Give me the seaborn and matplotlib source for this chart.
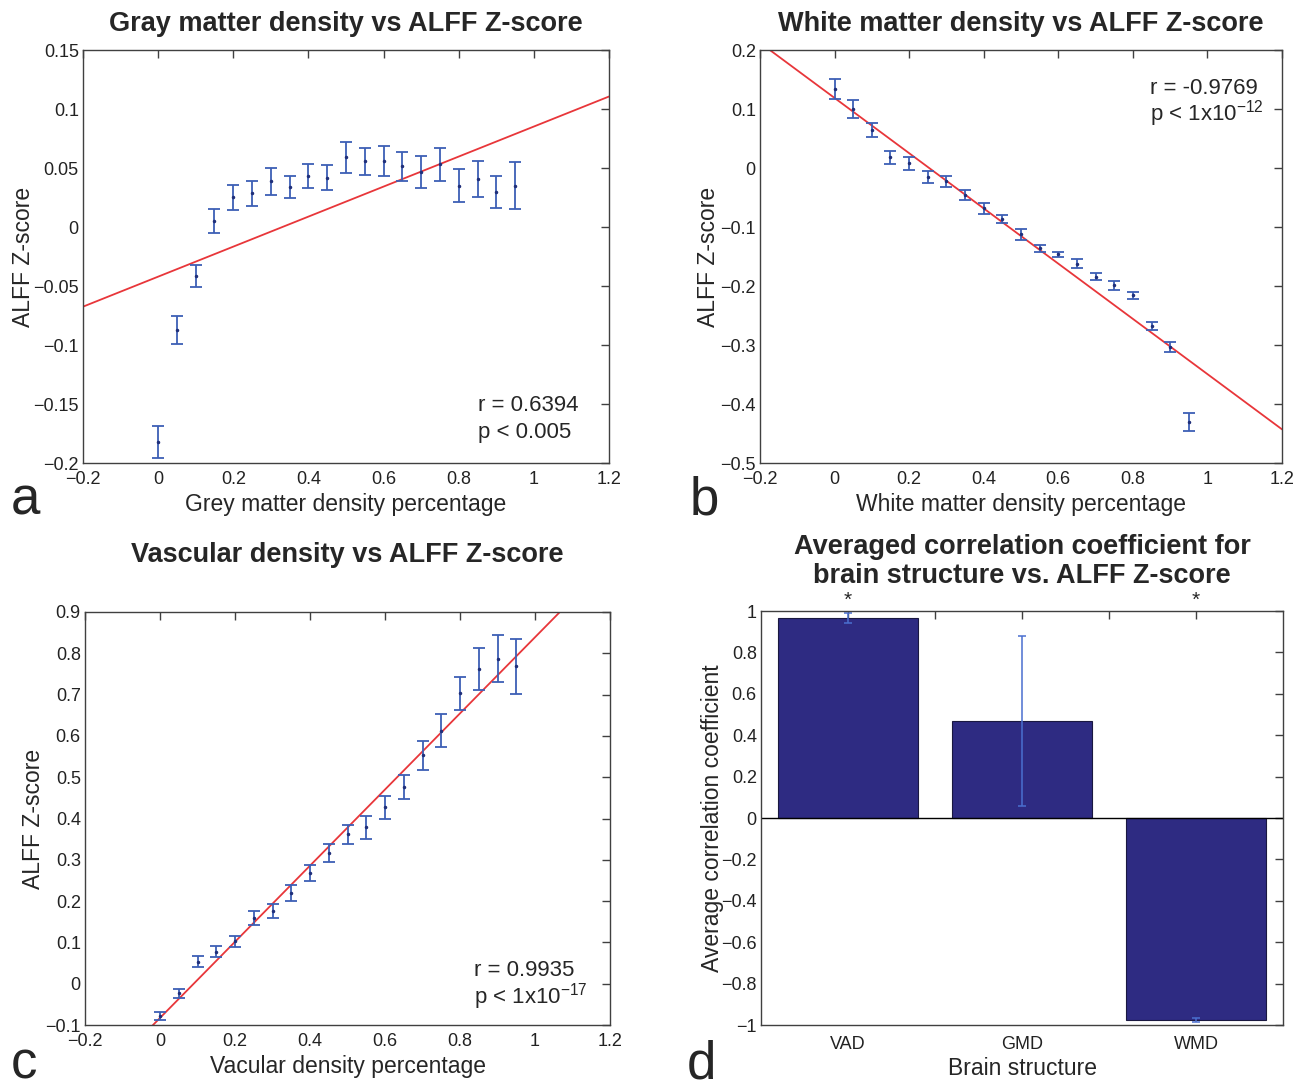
import matplotlib
matplotlib.use("Agg")
import numpy as np
import pandas as pd
import seaborn as sns
from matplotlib import pyplot as plt
from matplotlib.ticker import FuncFormatter

# density bins (fraction of tissue in voxel)
density = [0.0, 0.05, 0.1, 0.15, 0.2, 0.25, 0.3, 0.35, 0.4, 0.45,
           0.5, 0.55, 0.6, 0.65, 0.7, 0.75, 0.8, 0.85, 0.9, 0.95]

gray_z = [-0.182, -0.0873, -0.0415, 0.0051, 0.0251, 0.0285, 0.0387, 0.0339, 0.0432, 0.0418,
          0.059, 0.0556, 0.0559, 0.0514, 0.0466, 0.0531, 0.035, 0.0407, 0.0299, 0.035]
gray_err = [0.0135, 0.0115, 0.0095, 0.01, 0.0105, 0.0105, 0.0116, 0.0096, 0.0105, 0.0107,
            0.0128, 0.0112, 0.013, 0.012, 0.0134, 0.014, 0.014, 0.0153, 0.0134, 0.0198]

white_z = [0.134, 0.1006, 0.0638, 0.0181, 0.0085, -0.0147, -0.0226, -0.0452, -0.0684, -0.087,
           -0.1124, -0.1362, -0.1463, -0.1621, -0.1842, -0.1989, -0.2158, -0.2672, -0.3034, -0.4311]
white_err = [0.0164, 0.0155, 0.0118, 0.0116, 0.011, 0.0102, 0.0096, 0.0088, 0.0088, 0.0068,
             0.0093, 0.006, 0.0042, 0.0073, 0.006, 0.0073, 0.0062, 0.007, 0.0082, 0.0153]

vascular_z = [-0.0784, -0.0234, 0.0533, 0.0775, 0.1026, 0.1591, 0.1761, 0.2189, 0.269, 0.3158,
              0.3619, 0.3788, 0.4273, 0.4766, 0.5533, 0.6123, 0.7027, 0.7625, 0.7868, 0.7682]
vascular_err = [0.0097, 0.0105, 0.014, 0.013, 0.0133, 0.017, 0.017, 0.019, 0.0194, 0.0218,
                0.0235, 0.028, 0.0283, 0.029, 0.0347, 0.0396, 0.04, 0.0513, 0.0565, 0.067]

structures = ['VAD', 'GMD', 'WMD']
avg_corr = [0.965, 0.47, -0.975]
avg_corr_err = [0.025, 0.41, 0.01]
significant = [True, False, True]

ERR_BLUE = '#3d5fb5'
DOT_BLUE = '#1f2f7a'
FIT_RED = '#e8363a'
BAR_NAVY = '#2e2b82'

sns.set_style('white')
plt.rcParams['font.family'] = ['Liberation Sans', 'DejaVu Sans']
plt.rcParams['mathtext.fontset'] = 'custom'
plt.rcParams['mathtext.rm'] = 'Liberation Sans'
plt.rcParams['mathtext.it'] = 'Liberation Sans'

TITLE_SIZE = 19.5
LABEL_SIZE = 16.5


def matlab_fmt(v, pos):
    s = f"{v:.2f}".rstrip('0').rstrip('.')
    if s in ('-0', ''):
        s = '0'
    return s.replace('-', '\u2212')


def style_axes(ax):
    for sp in ax.spines.values():
        sp.set_color('#404040')
        sp.set_linewidth(1.0)
    ax.tick_params(which='both', direction='in', top=True, right=True,
                   length=6, width=1, color='#404040', labelsize=13,
                   labelcolor='#222222')
    ax.tick_params(axis='y', pad=3)
    ax.tick_params(axis='x', pad=5.5)
    ax.xaxis.set_major_formatter(FuncFormatter(matlab_fmt))
    ax.yaxis.set_major_formatter(FuncFormatter(matlab_fmt))


def plot_density(ax, z, err, ylim, yticks, title, xlabel, stats, stats_pos,
                 title_pad, ylabelpad):
    df = pd.DataFrame({'density': density, 'z': z, 'err': err})
    ax.set_xlim(-0.2, 1.2)
    sns.regplot(data=df, x='density', y='z', scatter=False, ci=None, truncate=False,
                color=FIT_RED, line_kws={'lw': 1.3}, ax=ax)
    ax.errorbar(df['density'], df['z'], yerr=df['err'], fmt='.', ms=3,
                color=DOT_BLUE, ecolor=ERR_BLUE, elinewidth=1.3, capsize=4,
                capthick=1.3)
    ax.set_xlim(-0.2, 1.2)
    ax.set_ylim(*ylim)
    ax.set_xticks([-0.2, 0, 0.2, 0.4, 0.6, 0.8, 1.0, 1.2])
    ax.set_yticks(yticks)
    style_axes(ax)
    ax.set_title(title, fontsize=TITLE_SIZE, fontweight='bold', pad=title_pad)
    ax.set_xlabel(xlabel, fontsize=LABEL_SIZE, labelpad=4)
    ax.set_ylabel('ALFF Z-score', fontsize=LABEL_SIZE, labelpad=ylabelpad)
    x0, y0, y1 = stats_pos
    ax.text(x0, y0, stats[0], transform=ax.transAxes, fontsize=16, va='center', ha='left')
    ax.text(x0, y1, stats[1], transform=ax.transAxes, fontsize=16, va='center', ha='left')


fig = plt.figure(figsize=(12.98, 10.88), dpi=100)
ax_a = fig.add_axes([0.0639, 0.5744, 0.4053, 0.3796])
ax_b = fig.add_axes([0.5855, 0.5744, 0.4022, 0.3796])
ax_c = fig.add_axes([0.0655, 0.0579, 0.4045, 0.3796])
ax_d = fig.add_axes([0.5863, 0.0579, 0.4022, 0.3805])

plot_density(ax_a, gray_z, gray_err, (-0.2, 0.15),
             [-0.2, -0.15, -0.1, -0.05, 0, 0.05, 0.1, 0.15],
             'Gray matter density vs ALFF Z-score', 'Grey matter density percentage',
             ('r = 0.6394', 'p < 0.005'), (0.751, 0.140, 0.075), 14, -1)
plot_density(ax_b, white_z, white_err, (-0.5, 0.2),
             [-0.5, -0.4, -0.3, -0.2, -0.1, 0, 0.1, 0.2],
             'White matter density vs ALFF Z-score', 'White matter density percentage',
             ('r = -0.9769', r'p < 1x10$^{-12}$'), (0.747, 0.908, 0.847), 14, 0)
plot_density(ax_c, vascular_z, vascular_err, (-0.1, 0.9),
             [-0.1, 0, 0.1, 0.2, 0.3, 0.4, 0.5, 0.6, 0.7, 0.8, 0.9],
             'Vascular density vs ALFF Z-score', 'Vacular density percentage',
             ('r = 0.9935', r'p < 1x10$^{-17}$'), (0.741, 0.133, 0.068), 36, 0)

# panel d: averaged correlation per structure
df_bar = pd.DataFrame({'structure': structures, 'corr': avg_corr, 'err': avg_corr_err})
sns.barplot(data=df_bar, x='structure', y='corr', color=BAR_NAVY, saturation=1,
            width=0.8, edgecolor='#1a1840', linewidth=0.8, ax=ax_d)
ax_d.errorbar(np.arange(len(structures)), df_bar['corr'], yerr=df_bar['err'], fmt='none',
              ecolor='#4a6fd0', elinewidth=1.1, capsize=3, capthick=1.1)
ax_d.axhline(0, color='black', lw=1)
ax_d.set_xlim(-0.5, len(structures) - 0.5)
ax_d.set_ylim(-1, 1)
ax_d.set_yticks(np.round(np.arange(-1, 1.01, 0.2), 1))
ax_d.set_xticks(range(len(structures)))
ax_d.set_xticks([0.5, 1.5], minor=True)
style_axes(ax_d)
ax_d.xaxis.set_major_formatter(matplotlib.ticker.FixedFormatter(structures))
ax_d.tick_params(axis='x', pad=8)
ax_d.set_title('Averaged correlation coefficient for\nbrain structure vs. ALFF Z-score',
               fontsize=TITLE_SIZE, fontweight='bold', pad=20, linespacing=1.15)
ax_d.set_xlabel('Brain structure', fontsize=LABEL_SIZE, labelpad=3)
ax_d.set_ylabel('Average correlation coefficient', fontsize=LABEL_SIZE, labelpad=-2)
for i, sig in enumerate(significant):
    if sig:
        ax_d.text(i, 1.05, '*', ha='center', va='center', fontsize=15, clip_on=False)

for letter, (fx, fy) in zip('abcd', [(0.008, 0.5267), (0.531, 0.5267),
                                    (0.008, 0.009), (0.529, 0.009)]):
    fig.text(fx, fy, letter, fontsize=38, ha='left', va='baseline')

fig.savefig('out.png', dpi=100)
